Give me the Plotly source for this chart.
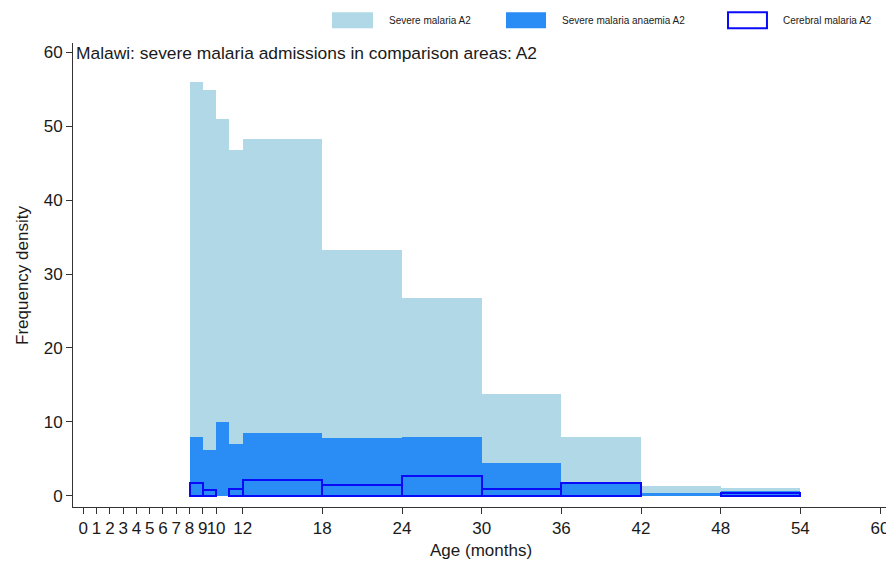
import plotly.graph_objects as go

# Bin edges (months) and frequency densities
bin_edges = [8, 9, 10, 11, 12, 18, 24, 30, 36, 42, 48, 54]
severe_malaria = [55.9, 54.9, 50.9, 46.8, 48.3, 33.3, 26.7, 13.8, 7.9, 1.4, 1.1]
severe_anaemia = [8.0, 6.2, 10.0, 7.0, 8.5, 7.8, 7.9, 4.4, 1.8, 0.35, 0.65]
cerebral_malaria = [1.8, 0.8, None, 0.9, 2.2, 1.5, 2.7, 1.0, 1.75, None, 0.35]

x_tickvals = [0, 1, 2, 3, 4, 5, 6, 7, 8, 9, 10, 12, 18, 24, 30, 36, 42, 48, 54, 60]
y_tickvals = [0, 10, 20, 30, 40, 50, 60]

centers = [(a + b) / 2 for a, b in zip(bin_edges[:-1], bin_edges[1:])]
widths = [b - a for a, b in zip(bin_edges[:-1], bin_edges[1:])]

C_LIGHT = "rgb(176,216,230)"
C_BLUE = "rgb(42,140,245)"
C_OUT = "rgb(10,10,250)"
FONT = "Liberation Sans, Arial, sans-serif"
TXT = "#1a1a1a"

fig = go.Figure()
fig.add_trace(go.Bar(x=centers, y=severe_malaria, width=widths, name="Severe malaria A2",
                     marker=dict(color=C_LIGHT, line=dict(width=0)), showlegend=False))
fig.add_trace(go.Bar(x=centers, y=severe_anaemia, width=widths, name="Severe malaria anaemia A2",
                     marker=dict(color=C_BLUE, line=dict(width=0)), showlegend=False))
fig.add_trace(go.Bar(x=centers, y=cerebral_malaria, width=widths, name="Cerebral malaria A2",
                     marker=dict(color="rgba(0,0,0,0)", line=dict(color=C_OUT, width=2)),
                     showlegend=False))

axis_common = dict(showgrid=False, zeroline=False, showline=True, linecolor="#333",
                   linewidth=1, ticks="outside", ticklen=6, tickcolor="#333",
                   automargin=False,
                   tickfont=dict(family=FONT, size=17, color=TXT))

fig.update_xaxes(range=[-0.776, 60.6], tickmode="array", tickvals=x_tickvals,
                 ticktext=[str(v) for v in x_tickvals], tickangle=0, **axis_common)
fig.update_yaxes(range=[-1.5, 61.24], tickmode="array", tickvals=y_tickvals, **axis_common)

# Legend (drawn manually to match swatch shapes)
legend_items = [
    (0.3178, 0.3681, 0.3853, "Severe malaria A2", dict(fillcolor=C_LIGHT, line=dict(width=0))),
    (0.5313, 0.5804, 0.5975, "Severe malaria anaemia A2", dict(fillcolor=C_BLUE, line=dict(width=0))),
    (0.8037, 0.8515, 0.8687, "Cerebral malaria A2", dict(fillcolor="rgba(0,0,0,0)", line=dict(color=C_OUT, width=2))),
]
shapes = []
annotations = []
for x0, x1, tx, label, style in legend_items:
    shapes.append(dict(type="rect", xref="paper", yref="paper", x0=x0, x1=x1,
                       y0=1.0317, y1=1.0662, **style))
    annotations.append(dict(text=label, xref="paper", yref="paper", x=tx, y=1.0489,
                            xanchor="left", yanchor="middle", showarrow=False,
                            font=dict(family=FONT, size=10, color=TXT)))

annotations.append(dict(text="Malawi: severe malaria admissions in comparison areas: A2",
                        xref="paper", yref="paper", x=0.001, y=0.978, xanchor="left",
                        yanchor="middle", showarrow=False,
                        font=dict(family=FONT, size=17.4, color=TXT)))
annotations.append(dict(text="Frequency density", xref="paper", yref="paper", x=-0.0626, y=0.5,
                        textangle=-90, xanchor="center", yanchor="middle", showarrow=False,
                        font=dict(family=FONT, size=17, color=TXT)))
annotations.append(dict(text="Age (months)", xref="paper", yref="paper", x=0.5012, y=-0.0927,
                        xanchor="center", yanchor="middle", showarrow=False,
                        font=dict(family=FONT, size=17, color=TXT)))

# The page body has an 8px margin, so the figure is sized to fit the window
fig.update_layout(
    width=886, height=557,
    margin=dict(l=65, r=6, t=35, b=58, autoexpand=False),
    barmode="overlay", bargap=0,
    plot_bgcolor="white", paper_bgcolor="white",
    shapes=shapes, annotations=annotations,
    showlegend=False,
)

fig.write_html("out.html")
